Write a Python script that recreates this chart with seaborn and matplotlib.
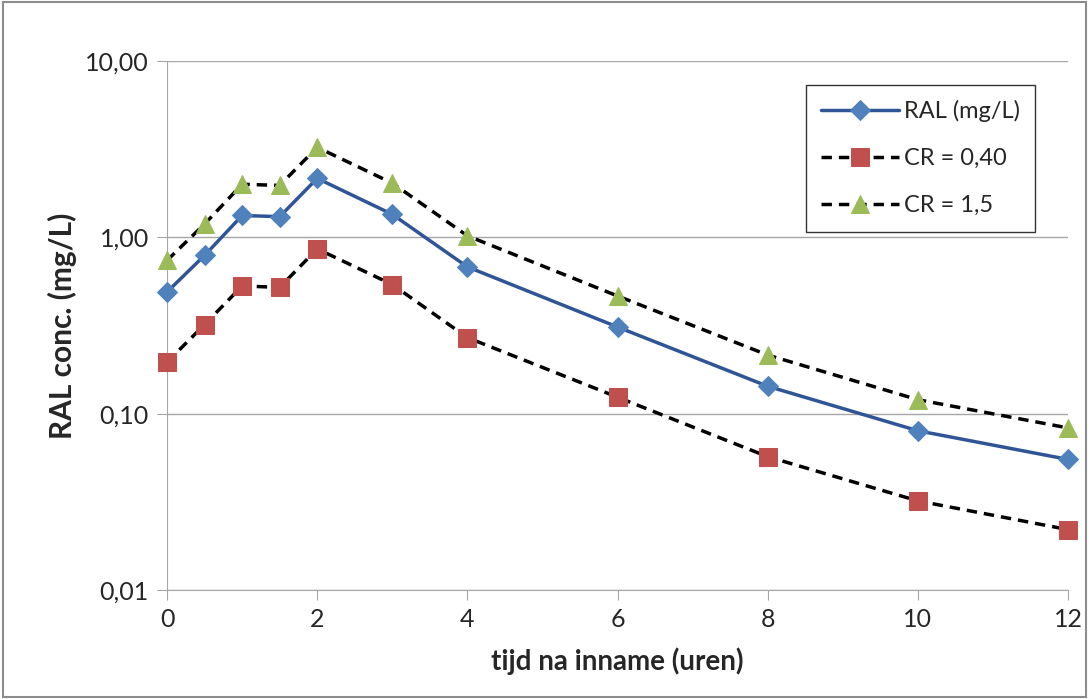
import matplotlib
matplotlib.use('Agg')
import matplotlib.pyplot as plt
import matplotlib.ticker as mtick
import seaborn as sns
import pandas as pd

# data
tijd = [0, 0.5, 1, 1.5, 2, 3, 4, 6, 8, 10, 12]
ral = [0.49, 0.79, 1.33, 1.31, 2.16, 1.35, 0.68, 0.31, 0.143, 0.080, 0.055]
cr_040 = [0.196, 0.32, 0.53, 0.52, 0.86, 0.54, 0.27, 0.124, 0.057, 0.032, 0.022]
cr_15 = [0.74, 1.19, 2.0, 1.97, 3.24, 2.03, 1.02, 0.465, 0.215, 0.12, 0.083]
y_ticks = [0.01, 0.1, 1, 10]
y_labels = ['0,01', '0,10', '1,00', '10,00']
x_ticks = [0, 2, 4, 6, 8, 10, 12]

sns.set_style('white')
plt.rcParams['font.family'] = ['Lato', 'DejaVu Sans']

df = pd.DataFrame({'tijd': tijd, 'RAL (mg/L)': ral, 'CR = 0,40': cr_040, 'CR = 1,5': cr_15})

fig = plt.figure(figsize=(10.89, 6.99), dpi=100)
ax = fig.add_axes([0.1534, 0.156, 0.8273, 0.7567])

sns.lineplot(data=df, x='tijd', y='RAL (mg/L)', ax=ax, color='#2F5597', lw=2.5,
             marker='D', markersize=10, markerfacecolor='#4F81BD', markeredgecolor='#4F81BD',
             label='RAL (mg/L)', zorder=4, clip_on=False)
sns.lineplot(data=df, x='tijd', y='CR = 0,40', ax=ax, color='black', lw=2.5, linestyle=(0, (3, 2)),
             marker='s', markersize=13, markerfacecolor='#C0504D', markeredgecolor='#C0504D',
             label='CR = 0,40', zorder=3, clip_on=False)
sns.lineplot(data=df, x='tijd', y='CR = 1,5', ax=ax, color='black', lw=2.5, linestyle=(0, (3, 2)),
             marker='^', markersize=13, markerfacecolor='#9BBB59', markeredgecolor='#9BBB59',
             label='CR = 1,5', zorder=3, clip_on=False)

ax.set_yscale('log')
ax.set_ylim(0.01, 10)
ax.set_xlim(0, 12)
ax.yaxis.set_minor_locator(mtick.NullLocator())
ax.set_yticks(y_ticks)
ax.set_yticklabels(y_labels)
ax.set_xticks(x_ticks)
ax.set_xticklabels([str(t) for t in x_ticks])

ax.grid(True, axis='y', color='#A6A6A6', lw=1)
ax.grid(False, axis='x')
ax.set_axisbelow(True)
for s in ['top', 'right']:
    ax.spines[s].set_visible(False)
for s in ['left', 'bottom']:
    ax.spines[s].set_color('#A6A6A6')
ax.tick_params(axis='both', which='major', length=7, color='#A6A6A6', direction='out',
               labelsize=18, labelcolor='#262626', pad=6)
ax.tick_params(left=True, bottom=True)

ax.set_xlabel('tijd na inname (uren)', fontsize=20, fontweight='bold', labelpad=12)
ax.set_ylabel('RAL conc. (mg/L)', fontsize=21.5, fontweight='bold', labelpad=6)

leg = ax.legend(loc='upper left', bbox_to_anchor=(0.709, 0.955), fontsize=17, frameon=True,
                fancybox=False, edgecolor='black', handlelength=3.3, labelspacing=1.1,
                borderpad=0.65, handletextpad=0.2, borderaxespad=0)
leg.get_frame().set_linewidth(1)

fig.patches.append(plt.Rectangle((0.003, 0.003), 0.994, 0.994, transform=fig.transFigure,
                                 fill=False, edgecolor='#8C8C8C', lw=1.5))

fig.savefig('out.png', dpi=100)
